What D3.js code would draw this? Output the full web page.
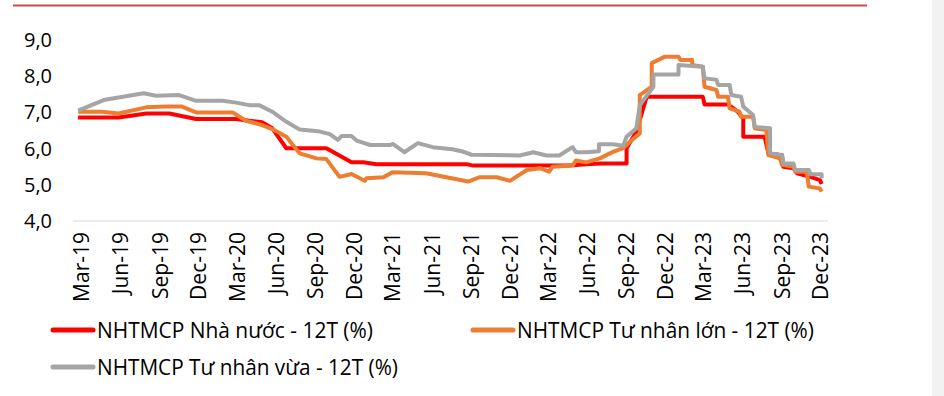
<!DOCTYPE html>
<html><head><meta charset="utf-8">
<script src="https://cdn.jsdelivr.net/npm/d3@7"></script>
<style>
html,body{margin:0;padding:0;background:#fff;}
svg{display:block;}
text{font-family:"Open Sans",sans-serif;fill:#000;}
</style></head>
<body>
<svg id="c" width="944" height="396"></svg>
<script>
// ---- data ----
const yTicks = [4, 5, 6, 7, 8, 9];
const xTickLabels = ["Mar-19","Jun-19","Sep-19","Dec-19","Mar-20","Jun-20","Sep-20","Dec-20","Mar-21","Jun-21","Sep-21","Dec-21","Mar-22","Jun-22","Sep-22","Dec-22","Mar-23","Jun-23","Sep-23","Dec-23"];
const seriesNames = ["NHTMCP Nhà nước - 12T (%)", "NHTMCP Tư nhân lớn - 12T (%)", "NHTMCP Tư nhân vừa - 12T (%)"];
const seriesColors = ["#ff0000", "#ed7d31", "#a5a5a5"];

const stateBanks = [
["2019-02-22",6.86],["2019-05-28",6.86],["2019-08-01",6.97],["2019-09-24",6.97],["2019-11-26",6.82],
["2020-02-28",6.82],["2020-03-30",6.77],["2020-04-29",6.73],["2020-05-23",6.56],["2020-06-25",6.01],
["2020-09-27",6.01],["2020-11-25",5.62],["2020-12-22",5.62],["2021-01-23",5.57],["2021-08-22",5.57],
["2021-09-07",5.53],["2022-04-20",5.53],["2022-05-30",5.57],["2022-07-01",5.59],["2022-09-02",5.59],
["2022-09-02",6.01],["2022-09-25",6.47],["2022-10-19",7.43],["2023-02-28",7.43],["2023-03-04",7.22],
["2023-04-28",7.22],["2023-05-21",7.02],["2023-06-03",6.84],["2023-06-03",6.33],["2023-07-23",6.33],
["2023-08-01",5.87],["2023-09-02",5.82],["2023-09-05",5.50],["2023-09-29",5.46],["2023-10-07",5.32],
["2023-11-08",5.22],["2023-11-30",5.13],["2023-12-04",5.02]
];
const largePrivate = [
["2019-02-22",7.02],["2019-04-19",7.02],["2019-05-28",6.97],["2019-08-01",7.14],["2019-09-16",7.16],
["2019-10-24",7.16],["2019-11-26",7.00],["2020-02-20",7.00],["2020-03-22",6.77],["2020-04-29",6.65],
["2020-05-23",6.54],["2020-06-25",6.33],["2020-07-26",5.87],["2020-09-04",5.73],["2020-09-27",5.71],
["2020-10-28",5.22],["2020-11-25",5.30],["2020-12-26",5.11],["2020-12-30",5.18],["2021-02-08",5.21],
["2021-03-02",5.35],["2021-05-19",5.32],["2021-07-06",5.21],["2021-08-26",5.09],["2021-09-22",5.21],
["2021-11-01",5.21],["2021-12-02",5.11],["2022-01-11",5.41],["2022-02-11",5.46],["2022-03-04",5.36],
["2022-03-12",5.50],["2022-04-28",5.53],["2022-05-06",5.67],["2022-05-30",5.62],["2022-07-01",5.73],
["2022-08-01",5.91],["2022-08-25",6.01],["2022-09-10",6.19],["2022-10-03",6.42],["2022-10-03",7.48],
["2022-10-31",7.71],["2022-10-31",8.36],["2022-12-01",8.54],["2023-01-02",8.54],["2023-01-06",8.45],
["2023-02-03",8.45],["2023-02-03",8.31],["2023-02-28",8.26],["2023-03-04",7.71],["2023-04-01",7.62],
["2023-04-05",7.43],["2023-04-28",7.43],["2023-05-02",7.11],["2023-05-25",7.02],["2023-05-29",6.88],
["2023-06-26",6.88],["2023-06-30",6.56],["2023-07-27",6.51],["2023-08-01",5.82],["2023-08-28",5.73],
["2023-09-02",5.55],["2023-09-29",5.50],["2023-10-03",5.36],["2023-10-30",5.36],["2023-11-04",4.95],
["2023-11-30",4.90],["2023-12-04",4.81]
];
const midPrivate = [
["2019-02-22",7.05],["2019-04-23",7.34],["2019-07-26",7.53],["2019-08-24",7.46],["2019-10-17",7.48],
["2019-11-26",7.32],["2020-01-27",7.32],["2020-02-28",7.27],["2020-03-30",7.20],["2020-04-22",7.20],
["2020-05-23",7.02],["2020-06-25",6.74],["2020-07-26",6.53],["2020-08-26",6.49],["2020-09-12",6.47],
["2020-10-05",6.40],["2020-10-24",6.24],["2020-11-02",6.35],["2020-11-25",6.35],["2020-12-07",6.22],
["2021-01-08",6.10],["2021-02-24",6.10],["2021-03-02",6.13],["2021-03-29",5.90],["2021-04-30",6.15],
["2021-06-04",6.04],["2021-07-20",5.98],["2021-08-13",5.92],["2021-09-03",5.83],["2021-12-25",5.81],
["2022-01-26",5.90],["2022-02-26",5.81],["2022-03-28",5.81],["2022-04-28",6.04],["2022-05-06",5.90],
["2022-05-30",5.90],["2022-06-29",5.93],["2022-06-29",6.12],["2022-08-01",6.12],["2022-08-25",6.08],
["2022-09-02",6.33],["2022-09-25",6.56],["2022-10-03",7.20],["2022-11-04",7.71],["2022-11-04",8.05],
["2023-01-02",8.05],["2023-01-02",8.31],["2023-02-28",8.26],["2023-03-04",7.94],["2023-04-01",7.90],
["2023-04-05",7.76],["2023-05-02",7.76],["2023-05-06",7.48],["2023-05-29",7.43],["2023-06-03",7.16],
["2023-06-26",6.93],["2023-06-30",6.60],["2023-08-05",6.56],["2023-08-05",5.87],["2023-09-02",5.82],
["2023-09-05",5.59],["2023-09-29",5.59],["2023-10-03",5.41],["2023-11-04",5.41],["2023-11-08",5.29],
["2023-12-04",5.29],["2023-12-04",5.18]
];
const allSeries = [stateBanks, largePrivate, midPrivate];

// ---- drawing ----
const svg = d3.select("#c");
const parse = d3.timeParse("%Y-%m-%d");
const fmtTick = d3.timeFormat("%b-%y");

// light gray page strip on the right
svg.append("rect").attr("x", 932).attr("y", 0).attr("width", 12).attr("height", 396).attr("fill", "#f2f2f2");
// top rule
svg.append("line").attr("x1", 13).attr("x2", 867).attr("y1", 5.5).attr("y2", 5.5)
  .attr("stroke", "#c0504d").attr("stroke-width", 2);

const x = d3.scaleTime().domain([parse("2019-02-10"), parse("2023-12-19")]).range([73, 828]);
const y = d3.scaleLinear().domain([4, 9]).range([221, 40]);

// baseline gridline
svg.append("line").attr("x1", x.range()[0]).attr("x2", x.range()[1])
  .attr("y1", y(4)).attr("y2", y(4)).attr("stroke", "#d9d9d9").attr("stroke-width", 1);

// y axis labels
const yAxis = d3.axisLeft(y).tickValues(yTicks).tickSize(0).tickPadding(0)
  .tickFormat(d => d3.format(".1f")(d).replace(".", ","));
const gy = svg.append("g").attr("transform", "translate(52,0)").call(yAxis);
gy.select(".domain").remove();
gy.selectAll("text").attr("font-size", 20).attr("font-family", "Open Sans").attr("fill", "#000");

// x axis labels (quarterly)
const tickDates = xTickLabels.map(s => d3.timeParse("%b-%y")(s));
const xAxis = d3.axisBottom(x).tickValues(tickDates).tickSize(0).tickFormat(fmtTick);
const gx = svg.append("g").attr("transform", `translate(0,${y(4)})`).call(xAxis);
gx.select(".domain").remove();
gx.selectAll("text")
  .attr("font-size", 21).attr("font-family", "Open Sans").attr("fill", "#000")
  .attr("text-anchor", "end")
  .attr("transform", "rotate(-90)")
  .attr("x", -11).attr("y", 0).attr("dy", "0.36em");

// lines
const line = d3.line().x(d => x(parse(d[0]))).y(d => y(d[1]));
allSeries.forEach((s, i) => {
  svg.append("path").datum(s).attr("d", line)
    .attr("fill", "none").attr("stroke", seriesColors[i]).attr("stroke-width", 4)
    .attr("stroke-linejoin", "round").attr("stroke-linecap", "butt");
});

// legend
const legendPos = [[53, 330, 276], [473, 330, 297], [53, 367, 301]];
seriesNames.forEach((n, i) => {
  const [lx, ly, tw] = legendPos[i];
  const g = svg.append("g").attr("transform", `translate(${lx},${ly})`);
  g.append("line").attr("x1", 0).attr("x2", 40).attr("y1", 0).attr("y2", 0)
    .attr("stroke", seriesColors[i]).attr("stroke-width", 5).attr("stroke-linecap", "round");
  g.append("text").attr("x", 44).attr("y", 7.5).attr("font-size", 21)
    .attr("textLength", tw).attr("lengthAdjust", "spacingAndGlyphs").text(n);
});
</script>
</body></html>
